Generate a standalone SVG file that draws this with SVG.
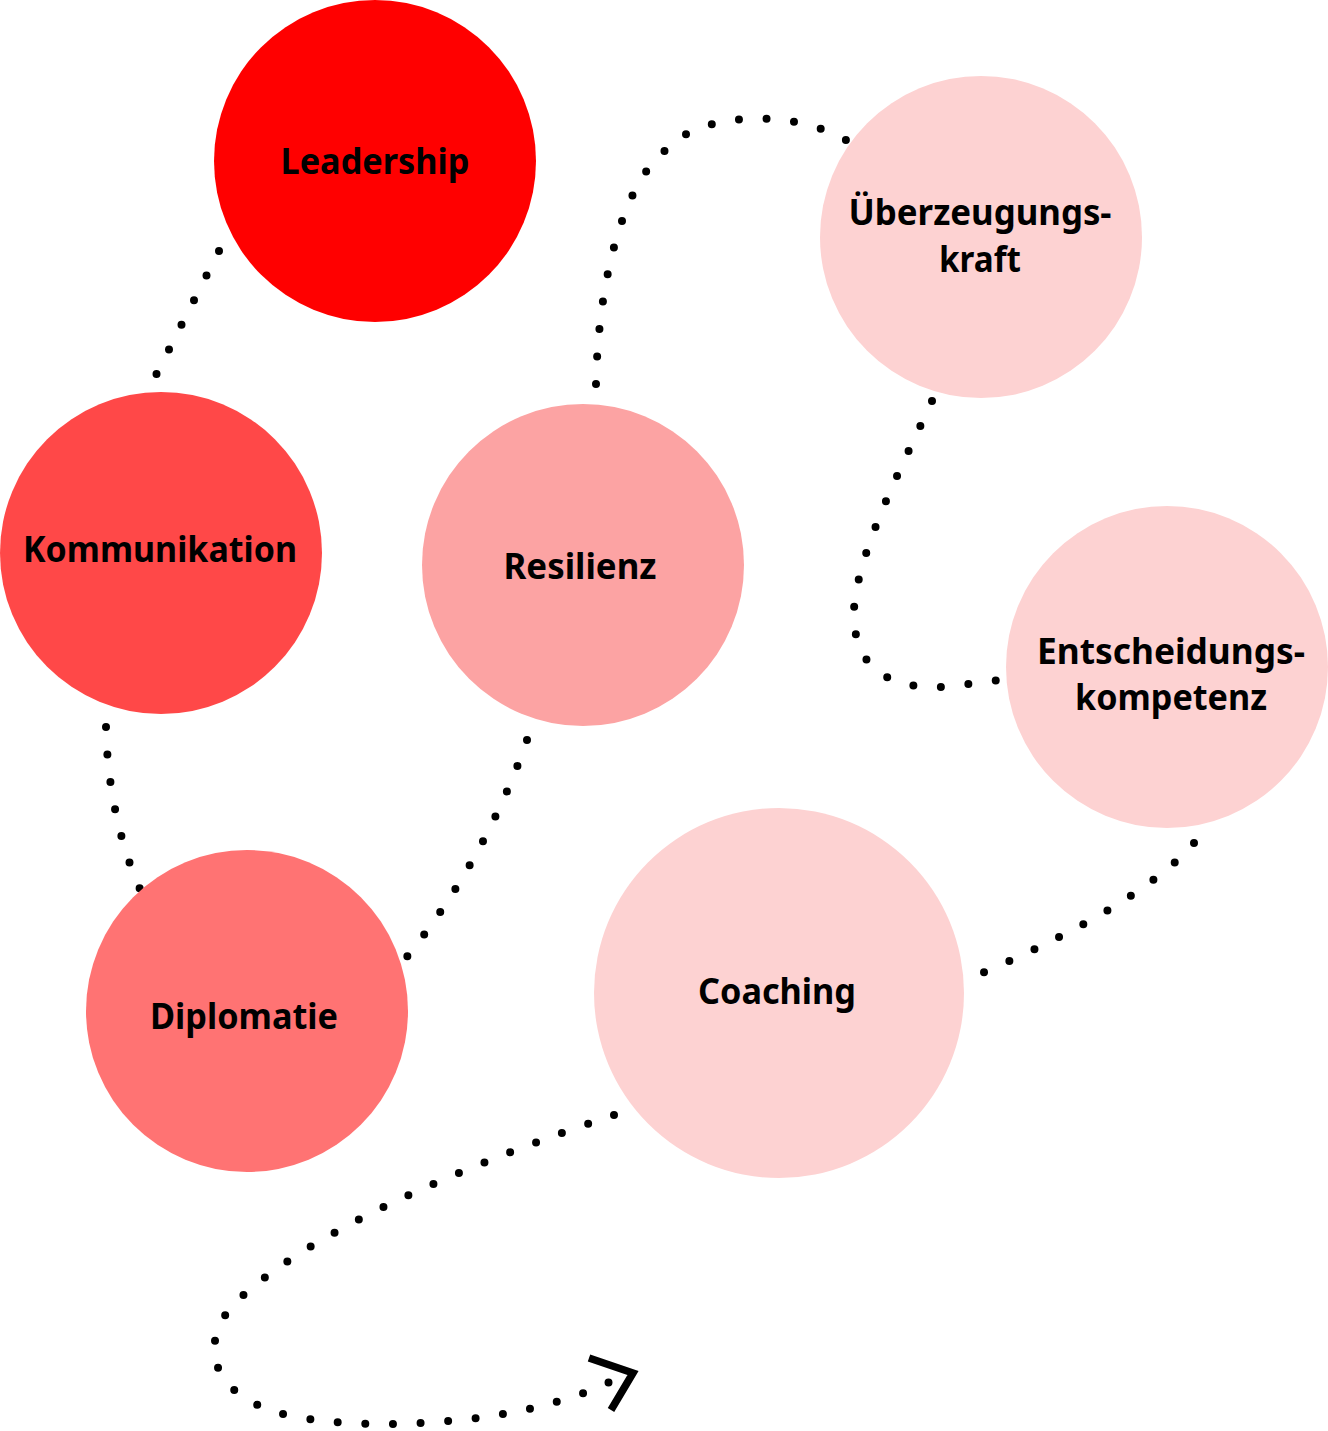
<svg xmlns="http://www.w3.org/2000/svg" width="1328" height="1431" viewBox="0 0 1328 1431">
<style>
.dot{fill:none;stroke:#000;stroke-width:8;stroke-linecap:round;stroke-dasharray:0 27.6}
.lbl{font-family:"Noto Sans","Open Sans","DejaVu Sans",sans-serif;font-weight:700;font-size:36px;fill:#000;text-anchor:middle}
.arrow{fill:none;stroke:#000;stroke-width:7.5;stroke-linejoin:miter;stroke-linecap:butt}
</style>
<rect width="1328" height="1431" fill="#fff"/>
<g id="connectors">
<path class="dot" d="M219,251 L155,377"/>
<path class="dot" d="M106,727 C107,780 118,840 140,889"/>
<path class="dot" d="M527,740 Q485,860 406,958"/>
<path class="dot" d="M596,384 C598,290 620,185 667,149 C695,115 790,105 851,143"/>
<path class="dot" d="M932,401 C905,460 858,550 854,609 C852,660 880,690 944,687 L999,680"/>
<path class="dot" d="M1194,843 Q1140,905 980,974"/>
<path class="dot" d="M614,1115 C480,1160 320,1225 240,1298 C205,1330 200,1380 262,1407 C322,1434 520,1432 619,1377"/>
<polyline class="arrow" points="589,1358 633,1373 611,1410"/>
</g>
<g id="node-leadership">
<circle cx="375" cy="161" r="161" fill="#ff0000"/>
<text class="lbl" x="375" y="174" textLength="189" lengthAdjust="spacingAndGlyphs">Leadership</text>
</g>
<g id="node-kommunikation">
<circle cx="161" cy="553" r="161" fill="#ff4848"/>
<text class="lbl" x="160" y="562" textLength="274" lengthAdjust="spacingAndGlyphs">Kommunikation</text>
</g>
<g id="node-resilienz">
<circle cx="583" cy="565" r="161" fill="#fca3a3"/>
<text class="lbl" x="580" y="579" textLength="153" lengthAdjust="spacingAndGlyphs">Resilienz</text>
</g>
<g id="node-diplomatie">
<circle cx="247" cy="1011" r="161" fill="#ff7373"/>
<text class="lbl" x="244" y="1029" textLength="188" lengthAdjust="spacingAndGlyphs">Diplomatie</text>
</g>
<g id="node-ueberzeugungskraft">
<circle cx="981" cy="237" r="161" fill="#fdd2d2"/>
<text class="lbl" x="980" y="225" textLength="263" lengthAdjust="spacingAndGlyphs">Überzeugungs-</text>
<text class="lbl" x="980" y="272" textLength="82" lengthAdjust="spacingAndGlyphs">kraft</text>
</g>
<g id="node-entscheidungskompetenz">
<circle cx="1167" cy="667" r="161" fill="#fdd2d2"/>
<text class="lbl" x="1171" y="664" textLength="268" lengthAdjust="spacingAndGlyphs">Entscheidungs-</text>
<text class="lbl" x="1171" y="710" textLength="192" lengthAdjust="spacingAndGlyphs">kompetenz</text>
</g>
<g id="node-coaching">
<circle cx="779" cy="993" r="185" fill="#fdd2d2"/>
<text class="lbl" x="777" y="1004" textLength="158" lengthAdjust="spacingAndGlyphs">Coaching</text>
</g>
</svg>
